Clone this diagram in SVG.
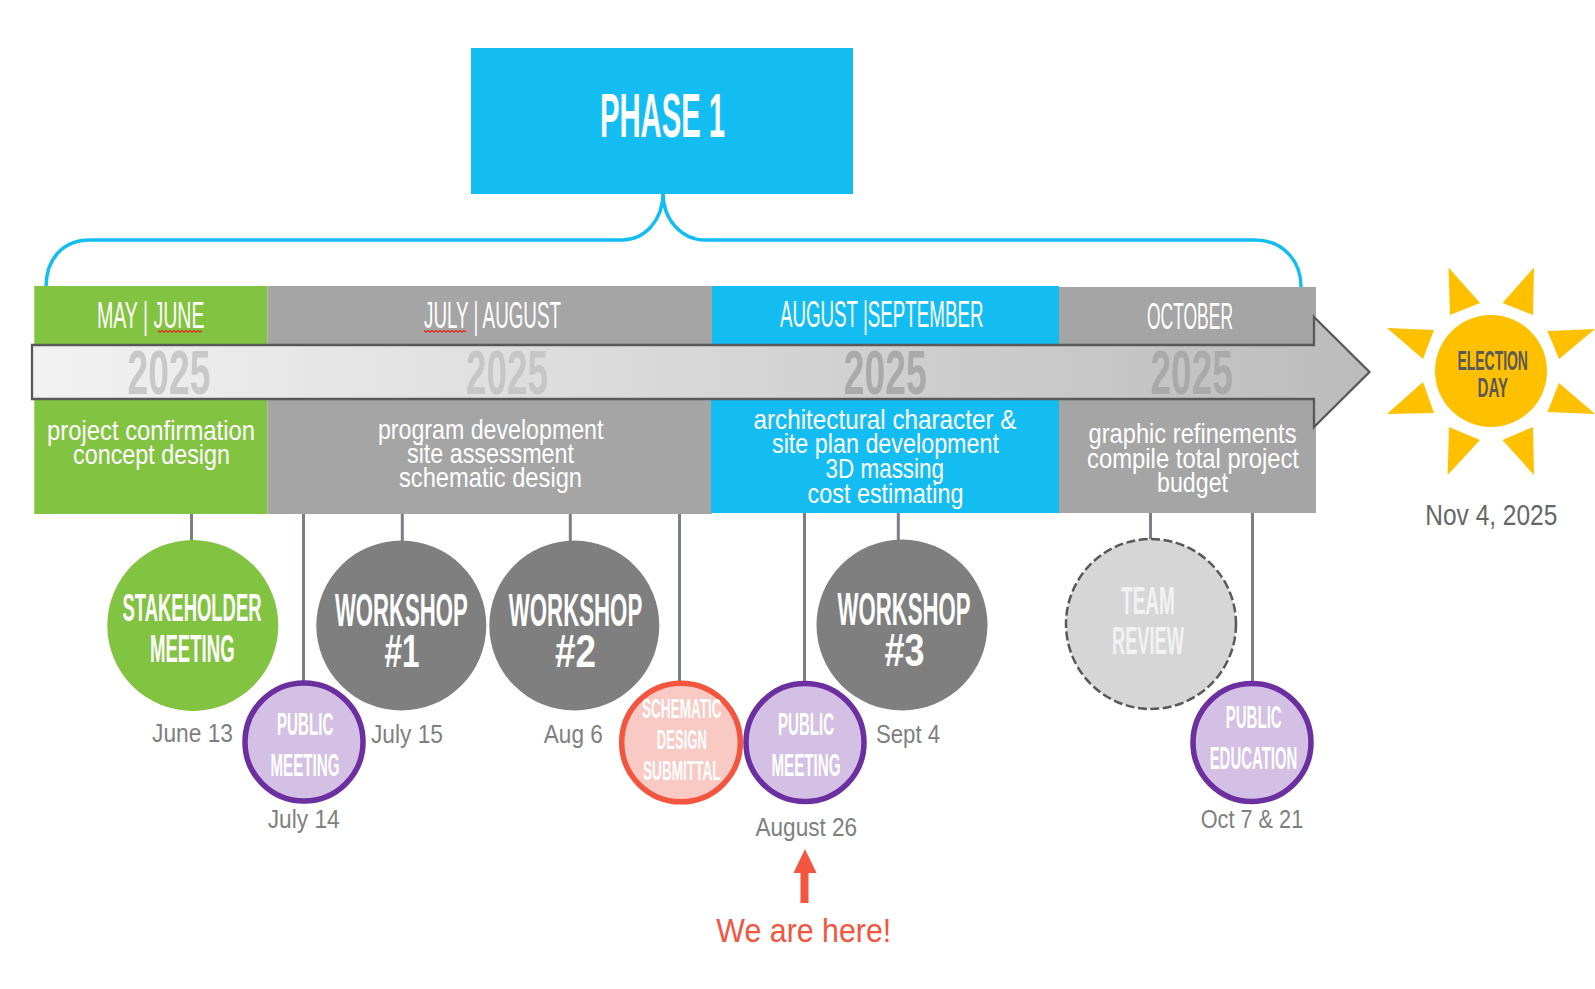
<svg xmlns="http://www.w3.org/2000/svg" width="1595" height="989" viewBox="0 0 1595 989">
<style>
text{font-family:"Liberation Sans","DejaVu Sans",sans-serif;text-anchor:middle}
.h{font-size:36px;fill:#fff}
.y{font-size:63px;font-weight:700}
.d{font-size:28px;fill:#fff}
.b{font-weight:700;fill:#fff}
.dt{font-size:26px;fill:#7f7f7f}
.stem{stroke:#7a7f87;stroke-width:3;fill:none}
.big{fill:#7f7f7f}
.pub{fill:#d4c0e4;stroke:#6b2fa0;stroke-width:5.5}
.sq{fill:none;stroke:#e0302a;stroke-width:1.4}
</style>
<defs>
<linearGradient id="g" x1="32" x2="1370" y1="0" y2="0" gradientUnits="userSpaceOnUse"><stop offset="0" stop-color="#f2f2f2"/><stop offset="1" stop-color="#bcbcbc"/></linearGradient>
</defs>
<g id="phase-1">
<rect x="471" y="48" width="382" height="146" fill="#14bdf1"/>
<text x="662.500" y="136.500" class="b" font-size="63" textLength="125" lengthAdjust="spacingAndGlyphs">PHASE 1</text>
</g>
<g id="connectors">
<path d="M46,287C46,260 62,240 90,240H622C645,240 663,220 663,193C663,220 682,240 705,240H1255C1282,240 1301,260 1301,287" fill="none" stroke="#14bdf1" stroke-width="3.5"/>
<path class="stem" d="M191.500,512V545M303.500,511V685M402.300,512V545M570.300,512V545M679.500,511V685M804.500,511V685M898.300,511V545M1150.500,511V540M1252.500,511V685"/>
</g>
<g id="band-may-june">
<rect x="34.300" y="286" width="233" height="60" fill="#82c341"/>
<rect x="34.300" y="398" width="233" height="116" fill="#82c341"/>
<text x="150.700" y="327.500" class="h" textLength="107.500" lengthAdjust="spacingAndGlyphs">MAY | JUNE</text>
<path class="sq" d="M158,330.500l2,1.500l2,-1.500l2,1.500l2,-1.500l2,1.500l2,-1.500l2,1.500l2,-1.500l2,1.500l2,-1.500l2,1.500l2,-1.500l2,1.500l2,-1.500l2,1.500l2,-1.500l2,1.500l2,-1.500l2,1.500l2,-1.500l2,1.500l2,-1.500"/>
<text x="151" y="440" class="d" textLength="208" lengthAdjust="spacingAndGlyphs">project confirmation</text>
<text x="151.500" y="464" class="d" textLength="157" lengthAdjust="spacingAndGlyphs">concept design</text>
</g>
<g id="band-july-august">
<rect x="267.300" y="286" width="444.700" height="60" fill="#a5a5a5"/>
<rect x="267.300" y="398" width="444.700" height="116" fill="#a5a5a5"/>
<text x="492.500" y="327.500" class="h" textLength="137" lengthAdjust="spacingAndGlyphs">JULY | AUGUST</text>
<path class="sq" d="M424,330.500l2,1.500l2,-1.500l2,1.500l2,-1.500l2,1.500l2,-1.500l2,1.500l2,-1.500l2,1.500l2,-1.500l2,1.500l2,-1.500l2,1.500l2,-1.500l2,1.500l2,-1.500l2,1.500l2,-1.500l2,1.500l2,-1.500l2,1.500"/>
<text x="490.700" y="438.700" class="d" textLength="225.500" lengthAdjust="spacingAndGlyphs">program development</text>
<text x="490.500" y="462.700" class="d" textLength="167" lengthAdjust="spacingAndGlyphs">site assessment</text>
<text x="490.500" y="487" class="d" textLength="183" lengthAdjust="spacingAndGlyphs">schematic design</text>
</g>
<g id="band-august-september">
<rect x="712" y="286" width="347" height="60" fill="#14bdf1"/>
<rect x="711" y="398" width="348" height="115" fill="#14bdf1"/>
<text x="881.700" y="326.500" class="h" textLength="203.500" lengthAdjust="spacingAndGlyphs">AUGUST |SEPTEMBER</text>
<text x="885" y="428.700" class="d" textLength="263" lengthAdjust="spacingAndGlyphs">architectural character &amp;</text>
<text x="885.500" y="453" class="d" textLength="227" lengthAdjust="spacingAndGlyphs">site plan development</text>
<text x="884.800" y="478" class="d" textLength="118.500" lengthAdjust="spacingAndGlyphs">3D massing</text>
<text x="885.500" y="502.700" class="d" textLength="156" lengthAdjust="spacingAndGlyphs">cost estimating</text>
</g>
<g id="band-october">
<rect x="1059" y="287" width="257" height="59" fill="#a5a5a5"/>
<rect x="1059" y="398" width="257" height="115" fill="#a5a5a5"/>
<text x="1190" y="328.500" class="h" textLength="86" lengthAdjust="spacingAndGlyphs">OCTOBER</text>
<text x="1192.500" y="442.700" class="d" textLength="208" lengthAdjust="spacingAndGlyphs">graphic refinements</text>
<text x="1193" y="467.700" class="d" textLength="212" lengthAdjust="spacingAndGlyphs">compile total project</text>
<text x="1192.500" y="491.700" class="d" textLength="71" lengthAdjust="spacingAndGlyphs">budget</text>
</g>
<g id="timeline-arrow">
<path d="M32,345H1314V317L1369.500,372L1314,427V399H32Z" fill="url(#g)" stroke="#595959" stroke-width="2.300"/>
<text x="169" y="393.500" class="y" fill="#c8c8c8" textLength="83" lengthAdjust="spacingAndGlyphs">2025</text>
<text x="507" y="393.500" class="y" fill="#c6c6c6" textLength="82" lengthAdjust="spacingAndGlyphs">2025</text>
<text x="885.300" y="393.500" class="y" fill="#aaaaaa" textLength="83" lengthAdjust="spacingAndGlyphs">2025</text>
<text x="1191.700" y="393.500" class="y" fill="#aaaaaa" textLength="82.500" lengthAdjust="spacingAndGlyphs">2025</text>
</g>
<g id="election-day">
<g fill="#ffc000">
<circle cx="1491" cy="371" r="56"/>
<path d="M1448.500,267.500L1480,303L1450,315Z"/>
<path d="M1534,267.500L1502.500,303L1533,315Z"/>
<path d="M1387,328L1434,330L1423,359Z"/>
<path d="M1595,329L1547.500,331L1559,359Z"/>
<path d="M1387,414L1434,413L1423,382Z"/>
<path d="M1595,414L1547.500,412L1559,383Z"/>
<path d="M1447.600,475L1480,440L1449,427Z"/>
<path d="M1534,475L1502.500,440L1533,427Z"/>
</g>
<text x="1492.700" y="370.300" class="b" style="fill:#595959" font-size="28" textLength="70.500" lengthAdjust="spacingAndGlyphs">ELECTION</text>
<text x="1492.800" y="397.300" class="b" style="fill:#595959" font-size="28" textLength="30.500" lengthAdjust="spacingAndGlyphs">DAY</text>
<text x="1491.300" y="525" font-size="29" fill="#666666" textLength="132" lengthAdjust="spacingAndGlyphs">Nov 4, 2025</text>
</g>
<g id="stakeholder-meeting">
<circle cx="192.800" cy="625.500" r="85.500" fill="#82c341"/>
<text x="192" y="621" class="b" font-size="38" textLength="139" lengthAdjust="spacingAndGlyphs">STAKEHOLDER</text>
<text x="192.300" y="661.700" class="b" font-size="38" textLength="84.700" lengthAdjust="spacingAndGlyphs">MEETING</text>
<text x="192.500" y="742.300" class="dt" textLength="81" lengthAdjust="spacingAndGlyphs">June 13</text>
</g>
<g id="workshop-1">
<circle class="big" cx="401.300" cy="625.500" r="85"/>
<text x="401.300" y="626.200" class="b" font-size="47" textLength="132.700" lengthAdjust="spacingAndGlyphs">WORKSHOP</text>
<text x="402" y="667" class="b" font-size="47" textLength="35" lengthAdjust="spacingAndGlyphs">#1</text>
<text x="407" y="743" class="dt" textLength="72" lengthAdjust="spacingAndGlyphs">July 15</text>
</g>
<g id="workshop-2">
<circle class="big" cx="574.300" cy="625.500" r="85"/>
<text x="575.500" y="626.200" class="b" font-size="47" textLength="133.500" lengthAdjust="spacingAndGlyphs">WORKSHOP</text>
<text x="575.500" y="667" class="b" font-size="47" textLength="41" lengthAdjust="spacingAndGlyphs">#2</text>
<text x="573.300" y="743" class="dt" textLength="59" lengthAdjust="spacingAndGlyphs">Aug 6</text>
</g>
<g id="workshop-3">
<circle class="big" cx="902" cy="625" r="85.500"/>
<text x="904" y="624.500" class="b" font-size="47" textLength="133" lengthAdjust="spacingAndGlyphs">WORKSHOP</text>
<text x="904.500" y="666" class="b" font-size="47" textLength="40" lengthAdjust="spacingAndGlyphs">#3</text>
<text x="908" y="743" class="dt" textLength="64" lengthAdjust="spacingAndGlyphs">Sept 4</text>
</g>
<g id="team-review">
<circle cx="1151" cy="624" r="85" fill="#d6d6d6" stroke="#595959" stroke-width="2.500" stroke-dasharray="9 3.500"/>
<text x="1148" y="614.200" class="b" style="fill:#f2f2f2" font-size="38" textLength="54" lengthAdjust="spacingAndGlyphs">TEAM</text>
<text x="1148" y="654.300" class="b" style="fill:#f2f2f2" font-size="38" textLength="72" lengthAdjust="spacingAndGlyphs">REVIEW</text>
</g>
<g id="public-meeting-1">
<circle class="pub" cx="304" cy="742" r="59"/>
<text x="305.200" y="734.800" class="b" font-size="31" textLength="56.400" lengthAdjust="spacingAndGlyphs">PUBLIC</text>
<text x="305" y="775.800" class="b" font-size="31" textLength="69" lengthAdjust="spacingAndGlyphs">MEETING</text>
<text x="303.700" y="827.500" class="dt" textLength="72" lengthAdjust="spacingAndGlyphs">July 14</text>
</g>
<g id="schematic-design-submittal">
<circle cx="681" cy="742.500" r="59.300" fill="#f9c9c4" stroke="#f4553f" stroke-width="5.500"/>
<text x="681.800" y="718.300" class="b" font-size="28" textLength="79.600" lengthAdjust="spacingAndGlyphs">SCHEMATIC</text>
<text x="681.900" y="749" class="b" font-size="28" textLength="50.200" lengthAdjust="spacingAndGlyphs">DESIGN</text>
<text x="681.800" y="780" class="b" font-size="28" textLength="77.600" lengthAdjust="spacingAndGlyphs">SUBMITTAL</text>
</g>
<g id="public-meeting-2">
<circle class="pub" cx="805" cy="742.500" r="59"/>
<text x="806" y="734.800" class="b" font-size="31" textLength="56" lengthAdjust="spacingAndGlyphs">PUBLIC</text>
<text x="806" y="775.800" class="b" font-size="31" textLength="69" lengthAdjust="spacingAndGlyphs">MEETING</text>
<text x="806.300" y="835.500" class="dt" textLength="101.500" lengthAdjust="spacingAndGlyphs">August 26</text>
</g>
<g id="public-education">
<circle class="pub" cx="1252" cy="742.500" r="59"/>
<text x="1253.700" y="728" class="b" font-size="31" textLength="56" lengthAdjust="spacingAndGlyphs">PUBLIC</text>
<text x="1253.500" y="769" class="b" font-size="31" textLength="87.700" lengthAdjust="spacingAndGlyphs">EDUCATION</text>
<text x="1252" y="827.500" class="dt" textLength="102.500" lengthAdjust="spacingAndGlyphs">Oct 7 &amp; 21</text>
</g>
<g id="we-are-here">
<path d="M805,849L816.500,873H808.500V903H800.500V873H793.500Z" fill="#f4553f"/>
<text x="803.800" y="941.700" font-size="33" fill="#f4553f" textLength="175" lengthAdjust="spacingAndGlyphs">We are here!</text>
</g>
</svg>
